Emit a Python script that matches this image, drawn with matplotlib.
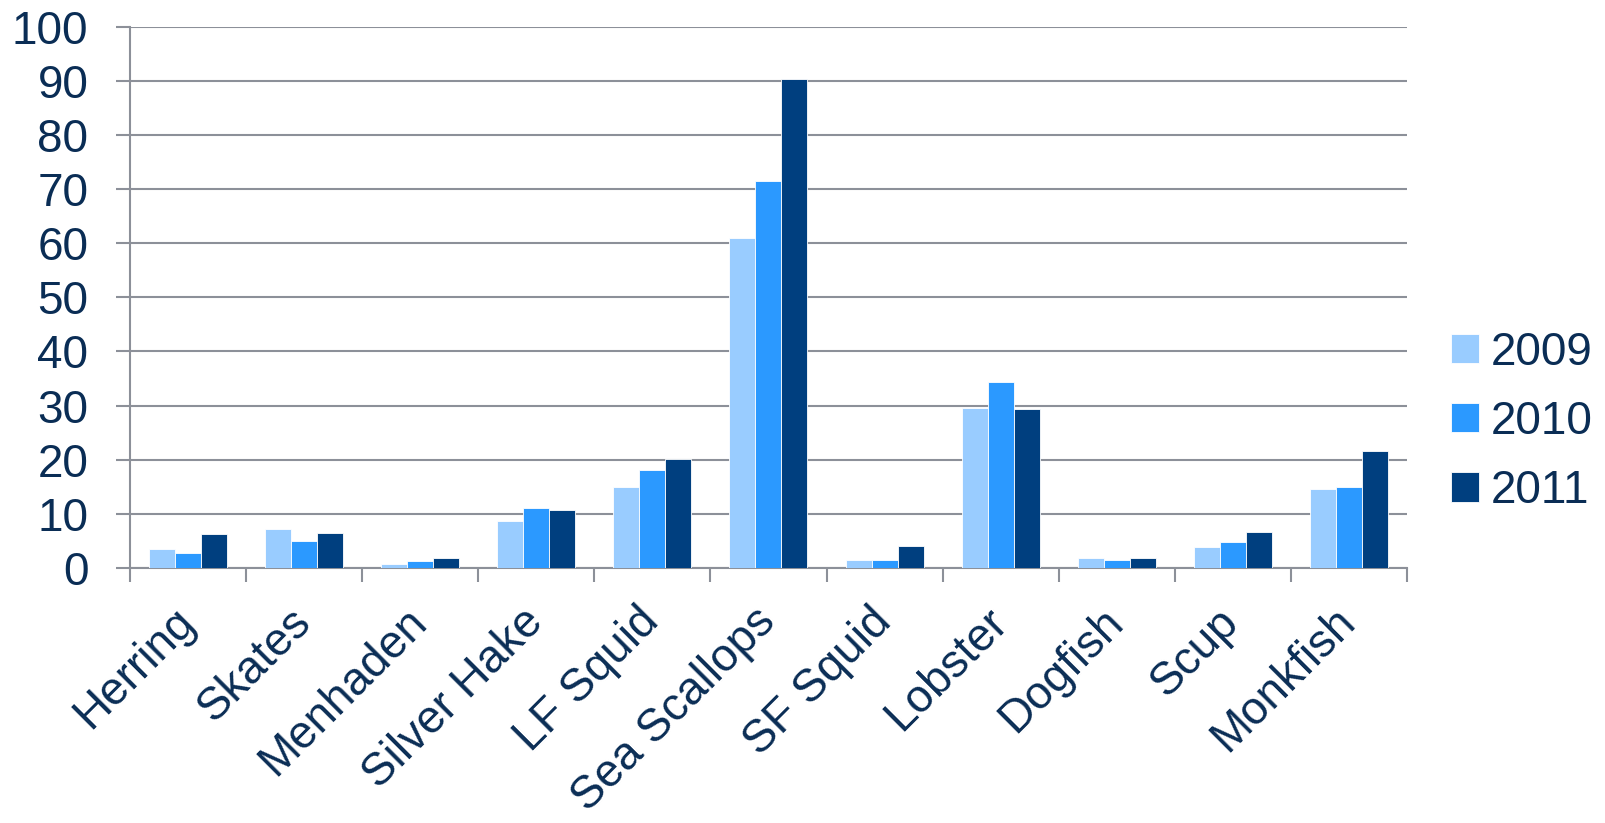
import matplotlib
matplotlib.use("Agg")
import matplotlib.pyplot as plt
import numpy as np

categories = ["Herring", "Skates", "Menhaden", "Silver Hake", "LF Squid", "Sea Scallops",
              "SF Squid", "Lobster", "Dogfish", "Scup", "Monkfish"]
years = ["2009", "2010", "2011"]
v2009 = [3.4, 7.2, 0.8, 8.6, 15.0, 60.9, 1.4, 29.6, 1.9, 3.9, 14.5]
v2010 = [2.7, 4.9, 1.2, 11.0, 18.0, 71.5, 1.5, 34.4, 1.4, 4.7, 14.9]
v2011 = [6.3, 6.4, 1.9, 10.7, 20.1, 90.3, 4.0, 29.3, 1.9, 6.7, 21.6]
colors = ["#99CCFF", "#2B99FF", "#003F7F"]

TEXT = "#0A2D55"
GRID = "#8C9099"
plt.rcParams['font.family'] = ['Liberation Sans', 'DejaVu Sans']

fig = plt.figure(figsize=(16.06, 8.23), dpi=100)
ax = fig.add_axes([0.081, 0.310, 0.795, 0.6576])

x = np.arange(len(categories))
w = 0.224
for i, (vals, c, lab) in enumerate(zip([v2009, v2010, v2011], colors, years)):
    ax.bar(x + (i - 1) * w, vals, width=w, color=c, label=lab, zorder=3,
           edgecolor="#ffffff", linewidth=0.6)

ax.set_xlim(-0.5, len(categories) - 0.5)
ax.set_ylim(0, 100)
ax.set_yticks(np.arange(0, 101, 10))
ax.yaxis.grid(True, color=GRID, linewidth=1.5, zorder=0)
ax.set_axisbelow(True)
for s in ["top", "right"]:
    ax.spines[s].set_visible(False)
for s in ["left", "bottom"]:
    ax.spines[s].set_color(GRID)
    ax.spines[s].set_linewidth(1.5)

ax.tick_params(axis="y", length=10, width=1.5, color=GRID, labelsize=33,
               labelcolor=TEXT, pad=20)
ax.set_xticks(x)
ax.set_xticklabels(categories, rotation=45, ha="right", va="center",
                   rotation_mode="anchor", fontsize=33, color=TEXT)
ax.tick_params(axis="x", which="major", length=0, pad=34)
ax.set_xticks(np.arange(-0.5, len(categories), 1.0), minor=True)
ax.tick_params(axis="x", which="minor", length=10, width=1.5, color=GRID)

leg = ax.legend(loc="center left", bbox_to_anchor=(1.02, 0.27), frameon=False,
                fontsize=33, handlelength=0.62, handleheight=0.62,
                handletextpad=0.25, labelspacing=0.55, borderaxespad=0)
for t in leg.get_texts():
    t.set_color(TEXT)

fig.savefig("out.png", dpi=100)
